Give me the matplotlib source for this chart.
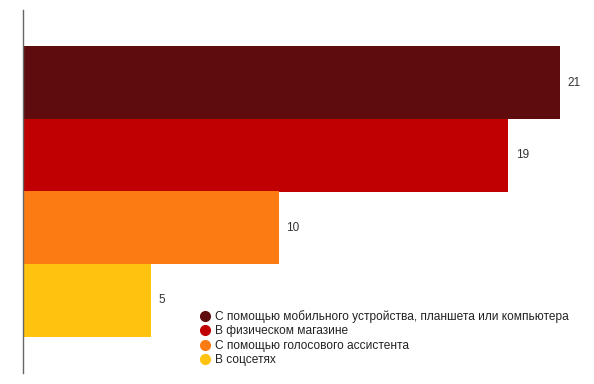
import matplotlib.pyplot as plt
from matplotlib.lines import Line2D

plt.rcParams['font.family'] = ['Liberation Sans', 'DejaVu Sans']

# data
labels = ['С помощью мобильного устройства, планшета или компьютера',
          'В физическом магазине',
          'С помощью голосового ассистента',
          'В соцсетях']
values = [21, 19, 10, 5]
colors = ['#5f0c0e', '#c00000', '#fd7b13', '#ffc20e']

W, H = 594, 384
fig = plt.figure(figsize=(W / 100, H / 100), dpi=100)
ax = fig.add_axes([23 / W, (H - 373) / H, (W - 23) / W, (373 - 10) / H])

pos = list(range(len(values)))
ax.barh(pos, values, height=1.0, color=colors)
for p, v in zip(pos, values):
    ax.text(v + 0.3, p, str(v), va='center', ha='left', fontsize=8.5, color='#333333')

ax.set_ylim(3.5 + 0.5, -0.5 - 0.5)
ax.set_xlim(0, (W - 23) / 25.55)
for s in ['top', 'right', 'bottom']:
    ax.spines[s].set_visible(False)
ax.spines['left'].set_color('#666666')
ax.spines['left'].set_linewidth(1)
ax.set_xticks([])
ax.set_yticks([])

handles = [Line2D([], [], marker='o', linestyle='', markersize=7, color=c) for c in colors]
fig.legend(handles, labels, loc='upper left', bbox_to_anchor=(201 / W, 1 - 310 / H),
           frameon=False, fontsize=8.6, handlelength=0.6, handletextpad=0.6,
           labelspacing=0.2, borderpad=0, borderaxespad=0, labelcolor='#222222')

fig.savefig('out.png', dpi=100)
